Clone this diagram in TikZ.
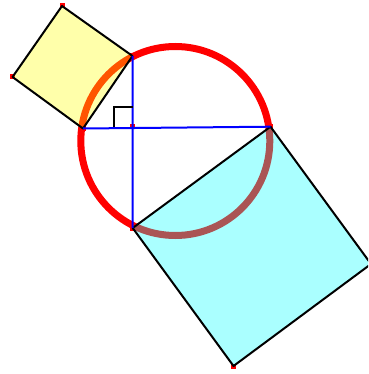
\documentclass[tikz,border=0pt]{standalone}
\definecolor{cyfill}{RGB}{0,255,255}
\definecolor{ylfill}{RGB}{255,255,0}
\definecolor{redc}{RGB}{255,0,0}
\definecolor{bluec}{RGB}{0,0,255}
\begin{document}
\begin{tikzpicture}[x=1pt,y=-1pt,
  circ/.style={draw=redc,line width=7pt},
  sqedge/.style={draw=black,line width=2pt,line join=round},
  chord/.style={draw=bluec,line width=2pt},
  rmark/.style={draw=black,line width=1.6pt},
  ptmark/.style={fill=redc,minimum size=5pt,inner sep=0pt,draw=none,rectangle}]
\useasboundingbox (0,0) rectangle (368,374);
\clip (0,0) rectangle (368,374);
% points
\coordinate (O) at (175.3,141);
\coordinate (A) at (83,128.5);
\coordinate (B) at (132.5,56);
\coordinate (C) at (270.5,126.7);
\coordinate (D) at (132.7,228);
\coordinate (E) at (132.7,127);
\coordinate (P1) at (62,6);
\coordinate (P2) at (12.5,77);
\coordinate (Q1) at (371,264);
\coordinate (Q2) at (233.5,366);
% markers
\foreach \p in {A,B,C,D,E,P1,P2,Q2} \node[ptmark] at (\p) {};
% circle
\draw[circ] (O) circle (94.5);
% squares
\fill[ylfill,fill opacity=0.3333] (A) -- (B) -- (P1) -- (P2) -- cycle;
\fill[cyfill,fill opacity=0.3333] (D) -- (C) -- (Q1) -- (Q2) -- cycle;
\draw[sqedge] (A) -- (B) -- (P1) -- (P2) -- cycle;
\draw[sqedge] (D) -- (C) -- (Q1) -- (Q2) -- cycle;
% chords
\draw[chord] (A) -- (C);
\draw[chord] (B) -- (D);
% right angle mark
\coordinate (R1) at (114,127);
\coordinate (R2) at (114,107);
\coordinate (R3) at (132.7,107);
\draw[rmark] (R1) -- (R2) -- (R3);
\end{tikzpicture}
\end{document}
